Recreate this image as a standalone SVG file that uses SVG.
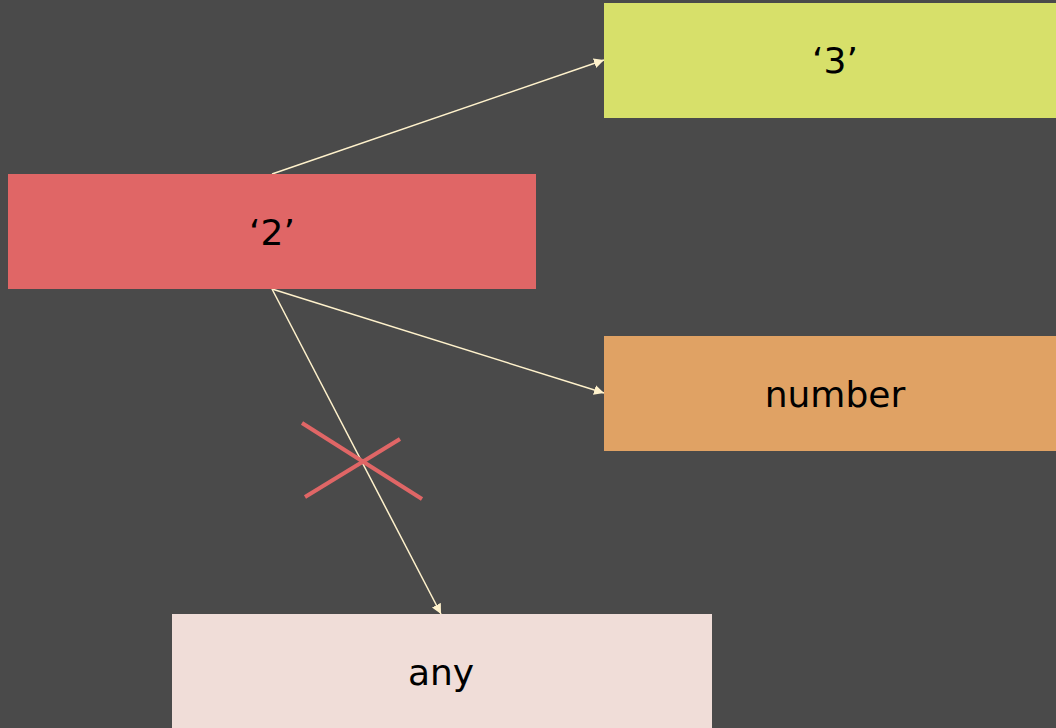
<svg xmlns="http://www.w3.org/2000/svg" width="1056" height="728" viewBox="0 0 1056 728">
  <defs>
    <marker id="arrow" viewBox="0 0 10 10" refX="10" refY="5" markerWidth="10" markerHeight="10" markerUnits="userSpaceOnUse" orient="auto">
      <path d="M0,0 L10,5 L0,10 z" fill="#fff2cc"/>
    </marker>
    <style>
      .label { font-family: "DejaVu Sans", "Liberation Sans", sans-serif; font-size: 36px; fill: #000000; text-anchor: middle; dominant-baseline: central; }
      .edge { stroke: #fff2cc; stroke-width: 1.5; fill: none; marker-end: url(#arrow); }
      .cross { stroke: #e06666; stroke-width: 4; }
    </style>
  </defs>
  <rect x="0" y="0" width="1056" height="728" fill="#4a4a4a"/>

  <g id="connectors">
    <line class="edge" x1="272" y1="174" x2="604" y2="60"/>
    <line class="edge" x1="272" y1="289" x2="604" y2="393"/>
    <line class="edge" x1="272" y1="289" x2="441" y2="614"/>
    <line class="cross" x1="302" y1="423" x2="422" y2="499"/>
    <line class="cross" x1="305" y1="497" x2="400" y2="439"/>
  </g>

  <g id="node-3">
    <rect x="604" y="3" width="452" height="115" fill="#d7e06a"/>
    <text class="label" x="835" y="60">‘3’</text>
  </g>
  <g id="node-2">
    <rect x="8" y="174" width="528" height="115" fill="#e06666"/>
    <text class="label" x="272" y="232">‘2’</text>
  </g>
  <g id="node-number">
    <rect x="604" y="336" width="452" height="115" fill="#e0a264"/>
    <text class="label" x="835" y="394">number</text>
  </g>
  <g id="node-any">
    <rect x="172" y="614" width="540" height="114" fill="#f0ddd8"/>
    <text class="label" x="441" y="672">any</text>
  </g>
</svg>
